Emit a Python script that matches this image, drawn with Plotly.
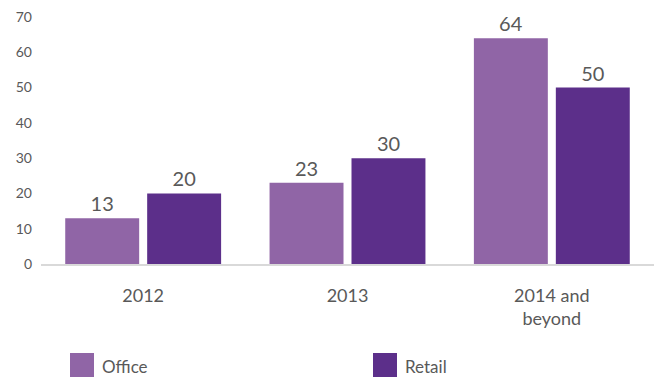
import plotly.graph_objects as go

categories = ["2012", "2013", "2014 and<br>beyond"]
office = [13, 23, 64]
retail = [20, 30, 50]
series_names = ["Office", "Retail"]
colors = ["#9065A6", "#5C2F8A"]
y_ticks = [0, 10, 20, 30, 40, 50, 60, 70]

FONT = "Lato"
GRAY = "#595959"

fig = go.Figure()
for name, vals, col in zip(series_names, [office, retail], colors):
    fig.add_trace(go.Bar(
        x=categories, y=vals, name=name, marker=dict(color=col, line=dict(width=0)),
        text=[str(v) for v in vals], textposition="outside",
        textfont=dict(family=FONT, size=20, color=GRAY),
        cliponaxis=False, showlegend=False,
    ))

# custom legend
leg_x = [70, 373]
for name, col, lx in zip(series_names, colors, leg_x):
    fig.add_shape(type="rect", xref="paper", yref="paper",
                  x0=(lx - 41) / 613, x1=(lx + 24 - 41) / 613,
                  y0=-(353 - 264) / 247, y1=-(377 - 264) / 247,
                  fillcolor=col, line=dict(width=0))
    fig.add_annotation(xref="paper", yref="paper", x=(lx + 30 - 41) / 613,
                       y=-(366 - 264) / 247, text=name, showarrow=False,
                       xanchor="left", yanchor="middle",
                       font=dict(family=FONT, size=17, color=GRAY))

fig.update_layout(
    width=662, height=378,
    margin=dict(l=41, r=8, t=17, b=114),
    paper_bgcolor="white", plot_bgcolor="white",
    barmode="group", bargap=0.198, bargroupgap=0.0976,
    font=dict(family=FONT, color=GRAY),
    uniformtext=dict(mode=False),
)
fig.update_yaxes(range=[0, 70], tickvals=y_ticks, showgrid=False, zeroline=False,
                 showline=False, ticks="", tickfont=dict(family=FONT, size=14, color=GRAY),
                 ticklabelstandoff=8)
fig.update_xaxes(showline=True, linecolor="#D9D9D9", linewidth=2, ticks="",
                 tickfont=dict(family=FONT, size=18, color=GRAY), ticklabelstandoff=14)

fig.write_html("out.html")
